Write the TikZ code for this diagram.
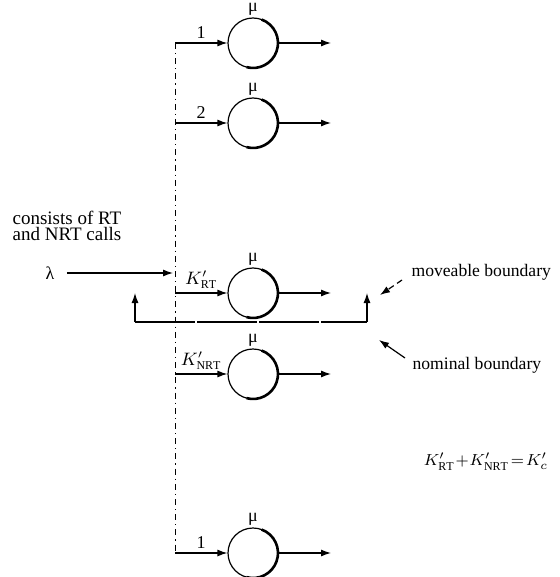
\documentclass[tikz,border=0pt]{standalone}
\usepackage{fontspec}
\setmainfont{Liberation Serif}
\usetikzlibrary{arrows.meta}
\begin{document}
\begin{tikzpicture}[x=0.5pt,y=-0.5pt,
  line width=0.6pt,
  tip/.style={-{Latex[length=5pt,width=3.5pt]}},
  server/.style={circle,draw,minimum size=25pt,inner sep=0pt},
  lbl/.style={font=\fontsize{9}{10}\selectfont,inner sep=1pt},
  busline/.style={dash dot,line width=0.5pt},
  note/.style={font=\fontsize{9.5}{8}\selectfont,align=left,inner sep=0pt},
  bnote/.style={font=\fontsize{8.8}{8}\selectfont,align=left,inner sep=0pt}
]
\useasboundingbox (0,0) rectangle (559,577);

% servers and branches
\foreach \n/\yy/\lab in {1/43/1, 2/123/2, 3/293/{$K'_{\mathrm{RT}}$}, 4/374/{$K'_{\mathrm{NRT}}$}, 5/553/1}{
  \coordinate (b\n) at (175,\yy);
  \node[server] (s\n) at (253,\yy) {};
  \draw[line width=1.3pt] (s\n.center) ++(70:12.5pt) arc[start angle=70,end angle=-105,radius=12.5pt];
  \coordinate (o\n) at (331,\yy);
  \draw[tip] (b\n) -- node[lbl,above=1pt] {\lab} (s\n.west);
  \draw[tip] (s\n.east) -- (o\n);
  \node[lbl,anchor=south,inner sep=0.5pt] (mu\n) at (s\n.north) {μ};
}

% vertical distribution line
\draw[busline] (b1) -- (b5);

% arrival
\node[lbl] (lam) at (50,273) {λ};
\coordinate (lamend) at (173,273);
\draw[tip] ([xshift=5pt]lam.east) -- (lamend);
\node[note,anchor=west] (cons) at (12,226) {consists of RT\\and NRT calls};

% boundary
\coordinate (bl) at (135,322);
\coordinate (br) at (367,322);
\coordinate (blt) at (135,293);
\coordinate (brt) at (367,293);
\draw[dash pattern=on 30pt off 1pt] (bl) -- (br);
\draw[tip] (bl) -- (blt);
\draw[tip] (br) -- (brt);

% annotations
\node[bnote,anchor=west] (mv) at (411,272) {moveable boundary};
\coordinate (mvs) at (402,280);
\coordinate (mve) at (380,295);
\draw[tip,densely dashed] (mvs) -- (mve);

\node[bnote,anchor=west] (nm) at (412,365) {nominal boundary};
\coordinate (nms) at (405,358);
\coordinate (nme) at (379,340);
\draw[tip] (nms) -- (nme);

\node[font=\fontsize{8}{9}\selectfont,inner sep=0pt] (eq) at (486,462) {$K'_{\mathrm{RT}}\!+\!K'_{\mathrm{NRT}}\!=\!K'_{c}$};
\end{tikzpicture}
\end{document}
